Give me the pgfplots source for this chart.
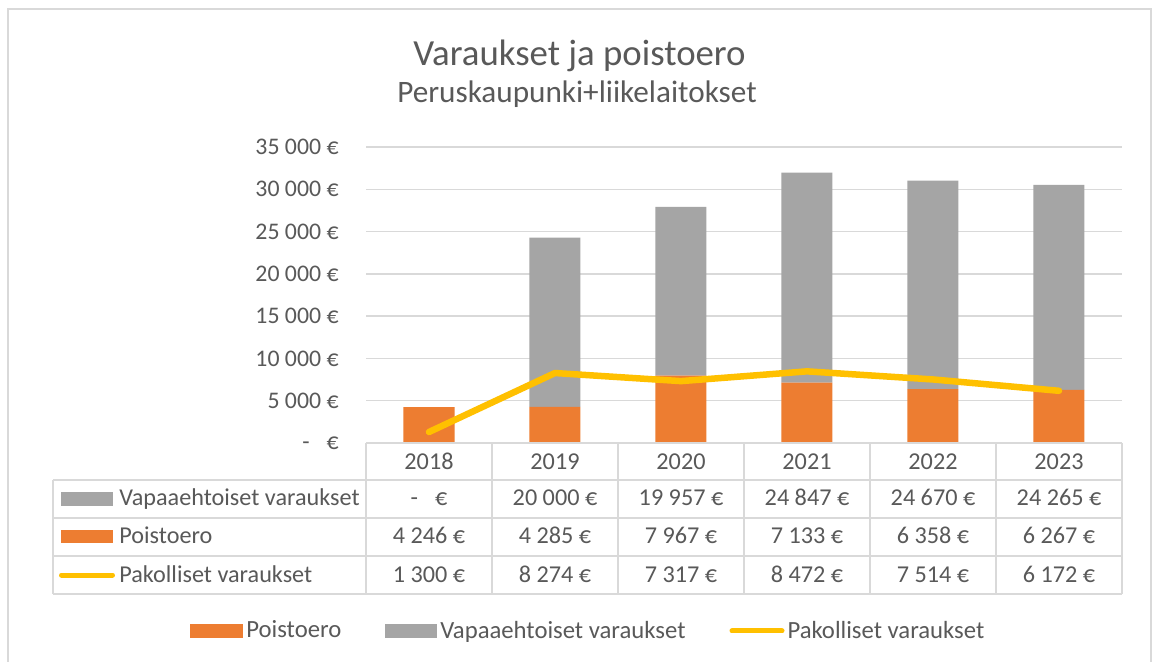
\documentclass[border=0pt]{standalone}
\usepackage{fontspec}
\setmainfont{Carlito}
\usepackage{pgfplots}
\usepackage{pgfplotstable}
\pgfplotsset{compat=1.18}
\definecolor{orangeC}{HTML}{ED7D31}
\definecolor{grayC}{HTML}{A5A5A5}
\definecolor{yellowC}{HTML}{FFC000}
\definecolor{txt}{HTML}{595959}
\definecolor{gridC}{HTML}{D9D9D9}
\pgfplotstableread{
x year poisto vapaa pakol
0 2018 4246 0     1300
1 2019 4285 20000 8274
2 2020 7967 19957 7317
3 2021 7133 24847 8472
4 2022 6358 24670 7514
5 2023 6267 24265 6172
}\data
\newcommand\tf{\fontsize{12.1}{14}\selectfont}
\newcommand\tkf{\fontsize{11.9}{14}\selectfont}
\begin{document}
\begin{tikzpicture}
\path[use as bounding box] (0,0) rectangle (578.5pt,-331pt);
\fill[white] (0,0) rectangle (578.5pt,-331pt);
\begin{axis}[
  at={(183pt,-221.5pt)}, anchor=south west,
  scale only axis, width=378pt, height=148pt,
  xmin=-0.5, xmax=5.5, ymin=0, ymax=35000,
  ybar stacked, bar width=25.5pt,
  axis line style={draw=none},
  xtick=\empty,
  scaled y ticks=false,
  ytick={0,5000,10000,15000,20000,25000,30000,35000},
  yticklabels={{-\hspace{8.5pt}€},{5 000 €},{10 000 €},{15 000 €},{20 000 €},{25 000 €},{30 000 €},{35 000 €}},
  major tick length=0pt,
  ymajorgrids, grid style={gridC, line width=0.7pt},
  yticklabel style={font=\tkf, text=txt, anchor=east, inner sep=0pt, xshift=-13.5pt},
  clip=false,
  legend columns=3,
  legend style={draw=none, fill=none, at={(-0.2328,-0.635)}, anchor=west,
    inner sep=0pt, font=\fontsize{12.35}{14}\selectfont,
    nodes={inner xsep=1.5pt, inner ysep=0.75pt, text=txt},
    /tikz/every even column/.append style={column sep=20.5pt}},
]
\addplot[fill=orangeC, draw=none,
  legend image code/.code={\fill[orangeC] (0pt,-3.5pt) rectangle (26.5pt,3.5pt);}]
  table[x=x,y=poisto]{\data};
\addlegendentry{Poistoero}
\addplot[fill=grayC, draw=none,
  legend image code/.code={\fill[grayC] (0pt,-3.5pt) rectangle (26pt,3.5pt);}]
  table[x=x,y=vapaa]{\data};
\addlegendentry{Vapaaehtoiset varaukset}
\addlegendimage{legend image code/.code={\draw[yellowC, line width=2.5pt, line cap=round] (1.25pt,0pt)--(26.25pt,0pt);}}
\addlegendentry{Pakolliset varaukset}
\end{axis}
\begin{axis}[
  at={(183pt,-221.5pt)}, anchor=south west,
  scale only axis, width=378pt, height=148pt,
  xmin=-0.5, xmax=5.5, ymin=0, ymax=35000,
  hide axis, clip=false]
\addplot[yellowC, line width=3.25pt, line cap=round, line join=round] table[x=x,y=pakol]{\data};
\end{axis}
\begin{scope}[x=0.5pt, y=-0.5pt]
  % outer border
  \draw[gridC, line width=0.6pt] (8,662) -- (8,9) -- (1151,9) -- (1151,662);
  % title
  \node[anchor=base, text=txt, font=\fontsize{18.4}{22}\selectfont, inner sep=0pt] at (579.5,66) {Varaukset ja poistoero};
  \node[anchor=base, text=txt, font=\fontsize{15.6}{19}\selectfont, inner sep=0pt] at (577,103) {Peruskaupunki+liikelaitokset};
  % table grid
  \begin{scope}[gridC, line width=1pt]
    \draw (366,443) -- (1122,443);
    \foreach \yy in {480,518,556,594} \draw (53,\yy) -- (1122,\yy);
    \draw (53,480) -- (53,594);
    \foreach \xx in {366,492,618,744,870,996,1122} \draw (\xx,443) -- (\xx,594);
  \end{scope}
  % header
  \foreach \yr [count=\i from 0] in {2018,2019,2020,2021,2022,2023}
    \node[anchor=base, text=txt, font=\tf, inner sep=0pt] at (429+126*\i,470) {\yr};
  % keys
  \fill[grayC] (61,492) rectangle (113,506);
  \fill[orangeC] (61,530) rectangle (113,543);
  \draw[yellowC, line width=2.5pt, line cap=round] (61.5,575) -- (112.5,575);
  \node[anchor=base west, text=txt, font=\tf, inner sep=0pt] at (119,506) {Vapaaehtoiset varaukset};
  \node[anchor=base west, text=txt, font=\tf, inner sep=0pt] at (119,544) {Poistoero};
  \node[anchor=base west, text=txt, font=\tf, inner sep=0pt] at (119,582) {Pakolliset varaukset};
  % values
  \foreach \v [count=\i from 0] in {{-\hspace{8.5pt}€},{20 000 €},{19 957 €},{24 847 €},{24 670 €},{24 265 €}}
    \node[anchor=base, text=txt, font=\tf, inner sep=0pt] at (429+126*\i,506) {\v};
  \foreach \v [count=\i from 0] in {{4 246 €},{4 285 €},{7 967 €},{7 133 €},{6 358 €},{6 267 €}}
    \node[anchor=base, text=txt, font=\tf, inner sep=0pt] at (429+126*\i,544) {\v};
  \foreach \v [count=\i from 0] in {{1 300 €},{8 274 €},{7 317 €},{8 472 €},{7 514 €},{6 172 €}}
    \node[anchor=base, text=txt, font=\tf, inner sep=0pt] at (429+126*\i,582) {\v};
\end{scope}
\end{tikzpicture}
\end{document}
